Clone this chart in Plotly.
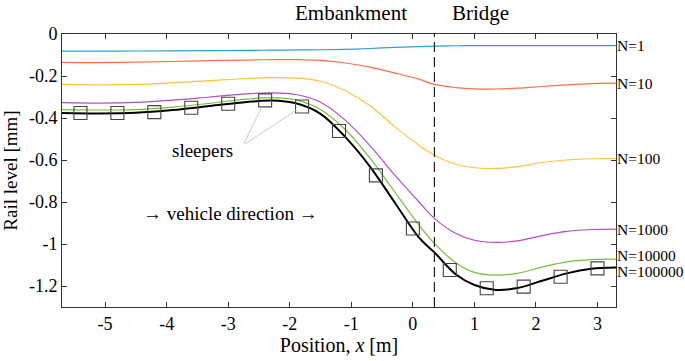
import plotly.graph_objects as go

# ---- data ----
x_pos = [-5.7, -5.1, -4.5, -3.9, -3.3, -2.7, -2.3, -1.9, -1.5, -1.1, -0.7, -0.3,
         0.1, 0.35, 0.7, 1.0, 1.35, 1.7, 2.1, 2.5, 2.9, 3.3]

n1 = [-0.082, -0.082, -0.081, -0.080, -0.079, -0.078, -0.077, -0.076, -0.075, -0.073, -0.069, -0.064,
      -0.060, -0.058, -0.056, -0.055, -0.055, -0.055, -0.055, -0.055, -0.055, -0.055]
n10 = [-0.135, -0.136, -0.134, -0.131, -0.127, -0.124, -0.122, -0.122, -0.126, -0.138, -0.158, -0.185,
       -0.215, -0.240, -0.255, -0.261, -0.262, -0.258, -0.250, -0.242, -0.236, -0.234]
n100 = [-0.240, -0.242, -0.240, -0.232, -0.222, -0.212, -0.208, -0.210, -0.225, -0.270, -0.340, -0.440,
        -0.530, -0.577, -0.620, -0.637, -0.640, -0.632, -0.612, -0.600, -0.594, -0.593]
n1000 = [-0.327, -0.329, -0.326, -0.315, -0.300, -0.285, -0.280, -0.288, -0.325, -0.410, -0.530, -0.670,
         -0.800, -0.878, -0.950, -0.982, -0.992, -0.985, -0.960, -0.940, -0.931, -0.929]
n10000 = [-0.360, -0.362, -0.360, -0.348, -0.330, -0.310, -0.303, -0.314, -0.360, -0.455, -0.590, -0.750,
          -0.910, -0.997, -1.090, -1.135, -1.148, -1.140, -1.110, -1.085, -1.074, -1.072]
n100000 = [-0.376, -0.378, -0.375, -0.362, -0.343, -0.324, -0.317, -0.330, -0.380, -0.490, -0.630, -0.800,
           -0.970, -1.040, -1.145, -1.195, -1.219, -1.210, -1.175, -1.140, -1.118, -1.112]

series_names = ["N=1", "N=10", "N=100", "N=1000", "N=10000", "N=100000"]
series_values = [n1, n10, n100, n1000, n10000, n100000]
series_colors = ["#2a9fd8", "#ff6f4a", "#ffc23f", "#b24dbf", "#78bd3c", "#000000"]
series_widths = [1.2, 1.2, 1.2, 1.2, 1.2, 2.0]
label_shift = [0, 0, 0, 0, 4, -4]

sleeper_x = [-5.4, -4.8, -4.2, -3.6, -3.0, -2.4, -1.8, -1.2, -0.6, 0.0, 0.6, 1.2, 1.8, 2.4, 3.0]
sleeper_y = [-0.376, -0.376, -0.372, -0.351, -0.332, -0.316, -0.345, -0.462, -0.673, -0.926,
             -1.124, -1.211, -1.203, -1.156, -1.116]

boundary_x = 0.35

x_ticks = [-5, -4, -3, -2, -1, 0, 1, 2, 3]
x_tick_labels = ["-5", "-4", "-3", "-2", "-1", "0", "1", "2", "3"]
y_ticks = [0, -0.2, -0.4, -0.6, -0.8, -1.0, -1.2]
y_tick_labels = ["0", "-0.2", "-0.4", "-0.6", "-0.8", "-1", "-1.2"]

FONT = "Liberation Serif"

fig = go.Figure()

for name, vals, col, w in zip(series_names, series_values, series_colors, series_widths):
    fig.add_trace(go.Scatter(x=x_pos, y=vals, mode="lines", name=name,
                             line=dict(color=col, width=w, shape="spline", smoothing=1.0),
                             showlegend=False))

fig.add_trace(go.Scatter(x=sleeper_x, y=sleeper_y, mode="markers", name="sleepers",
                         marker=dict(symbol="square-open", size=13, color="#444444",
                                     line=dict(width=1.1, color="#444444")),
                         showlegend=False))

fig.add_vline(x=boundary_x, line=dict(color="#222222", width=1.2, dash="10px,5px"))

for name, vals, sh in zip(series_names, series_values, label_shift):
    fig.add_annotation(x=1.0, xref="paper", y=vals[-1], yref="y", text=name,
                       xanchor="left", yanchor="middle", showarrow=False, xshift=-1, yshift=sh,
                       font=dict(family=FONT, size=15.5, color="black"))

# section labels
fig.add_annotation(x=-1.0, xref="x", y=1.078, yref="paper", text="Embankment",
                   showarrow=False, xanchor="center", yanchor="middle",
                   font=dict(family=FONT, size=21, color="black"))
fig.add_annotation(x=1.1, xref="x", y=1.078, yref="paper", text="Bridge",
                   showarrow=False, xanchor="center", yanchor="middle",
                   font=dict(family=FONT, size=21, color="black"))

# sleepers label and leader lines
fig.add_annotation(x=-3.41, y=-0.554, text="sleepers", showarrow=False,
                   font=dict(family=FONT, size=19, color="black"))
for i in (5, 6):
    fig.add_annotation(x=sleeper_x[i], y=sleeper_y[i], text="", showarrow=True,
                       axref="x", ayref="y", ax=-2.76, ay=-0.53, arrowhead=0,
                       arrowwidth=1, arrowcolor="#c8c8c8", standoff=7)

fig.add_annotation(x=-2.97, y=-0.853, text="\u2192 vehicle direction \u2192", showarrow=False,
                   font=dict(family=FONT, size=19, color="black"))

axis_common = dict(showgrid=False, zeroline=False, showline=True, linecolor="#333333",
                   linewidth=1, mirror="ticks", ticks="inside", ticklen=5, tickcolor="#333333",
                   automargin=False,
                   tickfont=dict(family=FONT, size=18, color="black"))

fig.update_xaxes(range=[-5.7, 3.3], tickvals=x_ticks, ticktext=x_tick_labels,
                 title=dict(text="Position, <i>x</i> [m]", font=dict(family=FONT, size=20, color="black"),
                            standoff=4),
                 **axis_common)
fig.update_yaxes(range=[-1.3, 0], tickvals=y_ticks, ticktext=y_tick_labels,
                 title=dict(text="Rail level [mm]", font=dict(family=FONT, size=19, color="black"),
                            standoff=6),
                 **axis_common)

fig.update_layout(width=685, height=361, margin=dict(l=62, r=69, t=34, b=54),
                  plot_bgcolor="white", paper_bgcolor="white",
                  font=dict(family=FONT, color="black"),
                  showlegend=False)

fig.write_html("out.html", config={"displayModeBar": False},
               post_script="document.body.style.margin='0px';")
